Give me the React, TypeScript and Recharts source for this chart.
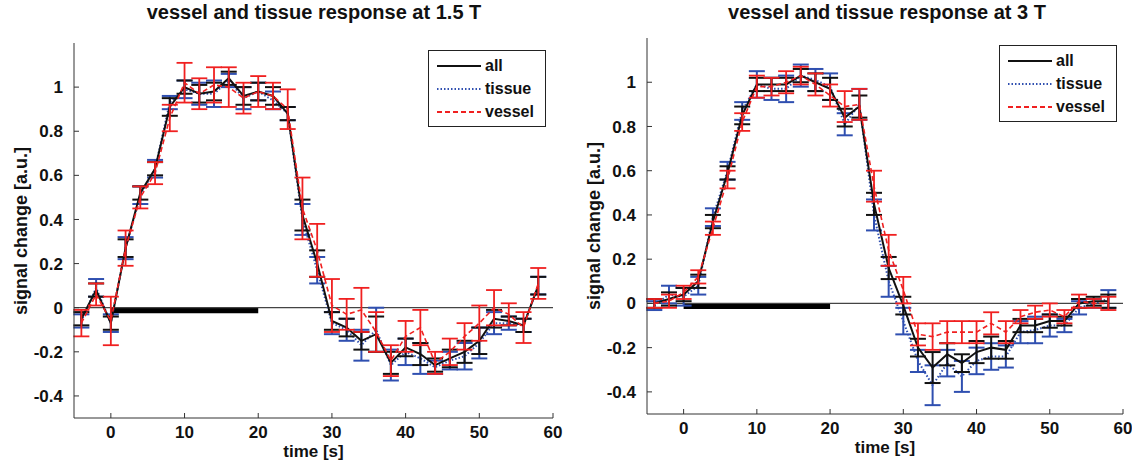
import React from "react";
import {
  ComposedChart,
  Line,
  XAxis,
  YAxis,
  ErrorBar,
  ReferenceLine,
  ReferenceArea,
} from "recharts";

// time points [s]
const times = [-4, -2, 0, 2, 4, 6, 8, 10, 12, 14, 16, 18, 20, 22, 24, 26, 28, 30, 32, 34, 36, 38, 40, 42, 44, 46, 48, 50, 52, 54, 56, 58];
const xTicks = [0, 10, 20, 30, 40, 50, 60];
const yTicks = [-0.4, -0.2, 0, 0.2, 0.4, 0.6, 0.8, 1];

// 1.5 T
const all15 = [-0.05, 0.08, -0.07, 0.27, 0.52, 0.63, 0.91, 1.0, 0.97, 0.98, 1.04, 0.96, 0.98, 0.96, 0.88, 0.42, 0.2, -0.06, -0.09, -0.15, -0.12, -0.25, -0.18, -0.21, -0.26, -0.23, -0.2, -0.15, -0.05, -0.06, -0.08, 0.1];
const tissue15 = [-0.06, 0.09, -0.07, 0.27, 0.51, 0.63, 0.93, 0.99, 0.97, 0.97, 1.03, 0.95, 0.98, 0.94, 0.88, 0.4, 0.17, -0.07, -0.1, -0.17, -0.1, -0.26, -0.2, -0.23, -0.27, -0.24, -0.22, -0.16, -0.07, -0.07, -0.08, 0.1];
const vessel15 = [-0.07, 0.06, -0.06, 0.27, 0.5, 0.61, 0.86, 1.02, 0.97, 1.01, 1.0, 0.95, 0.98, 0.96, 0.9, 0.45, 0.26, 0.01, -0.03, -0.01, -0.11, -0.24, -0.13, -0.09, -0.25, -0.2, -0.13, -0.07, 0.0, -0.03, -0.09, 0.11];
const allErr15 = [0.03, 0.03, 0.03, 0.04, 0.03, 0.03, 0.04, 0.03, 0.04, 0.04, 0.03, 0.04, 0.04, 0.04, 0.03, 0.07, 0.06, 0.04, 0.04, 0.04, 0.08, 0.05, 0.04, 0.05, 0.03, 0.04, 0.05, 0.06, 0.04, 0.02, 0.03, 0.04];
const tissueErr15 = [0.03, 0.04, 0.04, 0.05, 0.04, 0.04, 0.03, 0.04, 0.05, 0.06, 0.03, 0.05, 0.04, 0.04, 0.03, 0.07, 0.06, 0.05, 0.05, 0.07, 0.1, 0.07, 0.06, 0.07, 0.03, 0.04, 0.06, 0.07, 0.05, 0.03, 0.03, 0.04];
const vesselErr15 = [0.06, 0.05, 0.11, 0.08, 0.05, 0.05, 0.06, 0.09, 0.07, 0.08, 0.09, 0.07, 0.07, 0.06, 0.09, 0.14, 0.12, 0.12, 0.07, 0.1, 0.09, 0.07, 0.07, 0.08, 0.05, 0.06, 0.06, 0.08, 0.08, 0.05, 0.07, 0.07];

// 3 T
const all3 = [0.0, 0.02, 0.04, 0.1, 0.37, 0.59, 0.85, 0.99, 0.99, 0.99, 1.03, 1.0, 0.97, 0.84, 0.89, 0.45, 0.16, -0.01, -0.2, -0.29, -0.23, -0.27, -0.22, -0.2, -0.21, -0.1, -0.1, -0.08, -0.08, 0.0, 0.01, 0.01];
const tissue3 = [-0.01, 0.04, 0.03, 0.08, 0.39, 0.6, 0.87, 0.99, 0.97, 0.97, 1.03, 1.01, 0.98, 0.81, 0.9, 0.4, 0.1, -0.08, -0.26, -0.37, -0.27, -0.33, -0.26, -0.24, -0.24, -0.13, -0.12, -0.1, -0.1, -0.02, 0.0, 0.02];
const vessel3 = [0.0, 0.01, 0.05, 0.12, 0.34, 0.56, 0.82, 0.98, 0.98, 1.0, 1.03, 0.99, 0.94, 0.89, 0.9, 0.53, 0.24, 0.06, -0.14, -0.15, -0.13, -0.13, -0.13, -0.09, -0.13, -0.06, -0.04, -0.03, -0.06, 0.01, 0.0, 0.0];
const allErr3 = [0.02, 0.03, 0.03, 0.03, 0.03, 0.03, 0.04, 0.03, 0.03, 0.03, 0.03, 0.04, 0.05, 0.04, 0.05, 0.05, 0.05, 0.04, 0.04, 0.07, 0.05, 0.04, 0.05, 0.05, 0.04, 0.03, 0.03, 0.03, 0.02, 0.02, 0.02, 0.03];
const tissueErr3 = [0.02, 0.04, 0.04, 0.04, 0.04, 0.04, 0.04, 0.06, 0.05, 0.06, 0.05, 0.05, 0.06, 0.05, 0.07, 0.07, 0.07, 0.06, 0.05, 0.09, 0.06, 0.07, 0.06, 0.06, 0.05, 0.05, 0.06, 0.05, 0.03, 0.03, 0.02, 0.04];
const vesselErr3 = [0.02, 0.03, 0.03, 0.03, 0.03, 0.04, 0.04, 0.05, 0.04, 0.05, 0.04, 0.05, 0.05, 0.07, 0.07, 0.07, 0.07, 0.06, 0.05, 0.06, 0.05, 0.05, 0.05, 0.05, 0.05, 0.03, 0.03, 0.03, 0.03, 0.03, 0.02, 0.03];

const FONT = "'Liberation Sans', Arial, sans-serif";
const BLACK = "#111111";
const BLUE = "#2f4fb0";
const RED = "#f02020";

const legendItems = [
  { name: "all", color: BLACK, dash: undefined },
  { name: "tissue", color: BLUE, dash: "1.5 2" },
  { name: "vessel", color: RED, dash: "5 3" },
];

const makeRows = (
  all: number[],
  tissue: number[],
  vessel: number[],
  allErr: number[],
  tissueErr: number[],
  vesselErr: number[]
) =>
  times.map((t, i) => ({
    t,
    all: all[i],
    tissue: tissue[i],
    vessel: vessel[i],
    allErr: allErr[i],
    tissueErr: tissueErr[i],
    vesselErr: vesselErr[i],
  }));

const LegendBox = ({ top, left }: { top: number; left: number }) => (
  <div
    style={{
      position: "absolute",
      top,
      left,
      border: "1.5px solid #222",
      background: "#fff",
      padding: "3px 4px 3px 8px",
      boxSizing: "border-box",
      width: 118,
      height: 77,
      zIndex: 2,
    }}
  >
    {legendItems.map((item) => (
      <div key={item.name} style={{ display: "flex", alignItems: "center", height: 23 }}>
        <svg width={44} height={8}>
          <line x1={0} y1={4} x2={44} y2={4} stroke={item.color} strokeWidth={2} strokeDasharray={item.dash} />
        </svg>
        <span style={{ marginLeft: 4, font: `bold 16px ${FONT}`, color: "#111" }}>{item.name}</span>
      </div>
    ))}
  </div>
);

type PanelProps = {
  left: number;
  title: string;
  rows: ReturnType<typeof makeRows>;
  margin: { top: number; right: number; bottom: number; left: number };
  legendPos: { top: number; left: number };
  titleX: number;
  yLabelX: number;
};

const tickStyle = { fill: "#111", fontSize: 17, fontWeight: "bold", fontFamily: FONT };

const Panel = ({ left, title, rows, margin, legendPos, titleX, yLabelX }: PanelProps) => {
  const plotMid = margin.top + (461 - margin.top - margin.bottom - 30) / 2;
  return (
    <div style={{ position: "absolute", left, top: 0, width: 566, height: 461 }}>
      <div
        style={{
          position: "absolute",
          left: titleX - 250,
          width: 500,
          top: 1,
          textAlign: "center",
          font: `bold 20px ${FONT}`,
          color: "#111",
        }}
      >
        {title}
      </div>
      <div
        style={{
          position: "absolute",
          left: yLabelX - 120,
          top: plotMid - 11,
          width: 240,
          height: 22,
          textAlign: "center",
          transform: "rotate(-90deg)",
          font: `bold 18px ${FONT}`,
          color: "#111",
        }}
      >
        signal change [a.u.]
      </div>
      <LegendBox top={legendPos.top} left={legendPos.left} />
      <ComposedChart width={566} height={461} data={rows} margin={margin}>
        <XAxis
          dataKey="t"
          type="number"
          domain={[-5, 60]}
          ticks={xTicks}
          allowDataOverflow
          height={30}
          tickSize={-5}
          tickMargin={13}
          stroke="#333"
          tick={tickStyle}
          label={{ value: "time [s]", position: "insideBottom", offset: -9, fill: "#111", fontSize: 17, fontWeight: "bold", fontFamily: FONT }}
        />
        <YAxis
          type="number"
          domain={[-0.5, 1.2]}
          ticks={yTicks}
          allowDataOverflow
          width={40}
          tickSize={-5}
          tickMargin={16}
          stroke="#333"
          tick={tickStyle}
        />
        <ReferenceLine y={0} stroke="#444" strokeWidth={1.2} />
        <ReferenceArea x1={0} x2={20} y1={-0.025} y2={0} fill="#000" fillOpacity={1} stroke="none" />
        <Line dataKey="tissue" stroke={BLUE} strokeWidth={2} strokeDasharray="1.5 2" dot={false} isAnimationActive={false}>
          <ErrorBar dataKey="tissueErr" width={8} stroke={BLUE} strokeWidth={2} direction="y" isAnimationActive={false} />
        </Line>
        <Line dataKey="all" stroke={BLACK} strokeWidth={2} dot={false} isAnimationActive={false}>
          <ErrorBar dataKey="allErr" width={8} stroke={BLACK} strokeWidth={2} direction="y" isAnimationActive={false} />
        </Line>
        <Line dataKey="vessel" stroke={RED} strokeWidth={1.6} strokeDasharray="5 3" dot={false} isAnimationActive={false}>
          <ErrorBar dataKey="vesselErr" width={8} stroke={RED} strokeWidth={1.8} direction="y" isAnimationActive={false} />
        </Line>
      </ComposedChart>
    </div>
  );
};

export default function App() {
  const rows15 = makeRows(all15, tissue15, vessel15, allErr15, tissueErr15, vesselErr15);
  const rows3 = makeRows(all3, tissue3, vessel3, allErr3, tissueErr3, vesselErr3);
  return (
    <div style={{ position: "absolute", left: 0, top: 0, width: 1132, height: 461, background: "#fff" }}>
      <Panel
        left={0}
        title="vessel and tissue response at 1.5 T"
        rows={rows15}
        margin={{ top: 43, right: 13, bottom: 13, left: 34 }}
        legendPos={{ top: 50, left: 428 }}
        titleX={314}
        yLabelX={22}
      />
      <Panel
        left={566}
        title="vessel and tissue response at 3 T"
        rows={rows3}
        margin={{ top: 38, right: 9, bottom: 17, left: 41 }}
        legendPos={{ top: 45, left: 433 }}
        titleX={321}
        yLabelX={29}
      />
    </div>
  );
}
